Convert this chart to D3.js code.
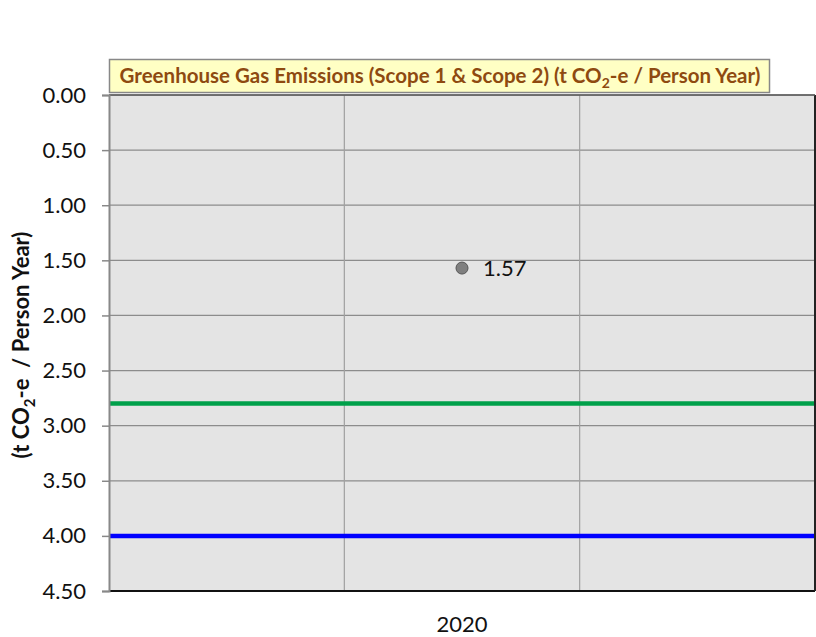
<!DOCTYPE html>
<html lang="en">
<head>
    <meta charset="UTF-8">
    <title>Greenhouse Gas Emissions</title>
    <script src="https://cdn.jsdelivr.net/npm/d3@7"></script>
    <style>
        body { margin: 0; background: #fff; }
        svg { display: block; }
        text { font-family: Lato, "Open Sans", sans-serif; }
    </style>
</head>
<body>
<div id="container"></div>
<script>
    // data
    const xSlots = ["2019", "2020", "2021"];
    const xLabels = ["", "2020", ""];
    const pointYear = ["2020"];
    const pointValue = [1.57];
    const refLines = [2.80, 4.00];
    const refColors = ["#00a04a", "#0000ff"];
    const yTicks = [0, 0.5, 1, 1.5, 2, 2.5, 3, 3.5, 4, 4.5];

    const width = 816, height = 637;
    const m = {top: 95, right: 1, bottom: 46, left: 109};
    const iw = width - m.left - m.right, ih = height - m.top - m.bottom;

    let svg = d3.select("#container").append("svg")
        .attr("width", width).attr("height", height);

    let x = d3.scaleBand().domain(xSlots).range([0, iw]);
    let y = d3.scaleLinear().domain([0, 4.5]).range([0, ih]);

    let g = svg.append("g").attr("transform", `translate(${m.left},${m.top})`);

    g.append("rect").attr("width", iw).attr("height", ih).attr("fill", "#e4e4e4");

    // horizontal grid
    g.selectAll(".hg").data(yTicks).join("line")
        .attr("x1", 0).attr("x2", iw)
        .attr("y1", d => y(d)).attr("y2", d => y(d))
        .attr("stroke", "#8c8c8c").attr("stroke-width", 1.2);

    // vertical grid at slot boundaries
    g.selectAll(".vg").data(xSlots.slice(1)).join("line")
        .attr("x1", d => x(d)).attr("x2", d => x(d))
        .attr("y1", 0).attr("y2", ih)
        .attr("stroke", "#a0a0a0").attr("stroke-width", 1.2);

    // reference lines
    g.selectAll(".ref").data(refLines).join("line")
        .attr("x1", 0).attr("x2", iw)
        .attr("y1", d => y(d)).attr("y2", d => y(d))
        .attr("stroke", (d, i) => refColors[i]).attr("stroke-width", 4.5);

    // borders
    g.append("line").attr("x1", 0).attr("x2", iw).attr("y1", ih).attr("y2", ih)
        .attr("stroke", "#111").attr("stroke-width", 2);
    g.append("line").attr("x1", iw).attr("x2", iw).attr("y1", 0).attr("y2", ih)
        .attr("stroke", "#222").attr("stroke-width", 2);
    g.append("line").attr("x1", 0).attr("x2", iw).attr("y1", 0).attr("y2", 0)
        .attr("stroke", "#555").attr("stroke-width", 1.5);

    // y axis
    let yAxis = g.append("g")
        .call(d3.axisLeft(y).tickValues(yTicks).tickFormat(d3.format(".2f")).tickSize(7).tickPadding(16));
    yAxis.select(".domain").attr("stroke", "#888").attr("stroke-width", 2);
    yAxis.selectAll(".tick line").attr("stroke", "#888").attr("stroke-width", 1.5);
    yAxis.selectAll(".tick text").attr("font-size", 22).attr("fill", "#111")
        .attr("font-family", "Lato, 'Open Sans', sans-serif");

    // x labels
    g.selectAll(".xl").data(xSlots).join("text")
        .attr("x", d => x(d) + x.bandwidth() / 2).attr("y", ih + 41)
        .attr("text-anchor", "middle").attr("font-size", 22).attr("fill", "#111")
        .text((d, i) => xLabels[i]);

    // point
    g.selectAll(".pt").data(pointValue).join("circle")
        .attr("cx", (d, i) => x(pointYear[i]) + x.bandwidth() / 2)
        .attr("cy", d => y(d)).attr("r", 6)
        .attr("fill", "#7f7f7f").attr("stroke", "#555").attr("stroke-width", 1);
    g.selectAll(".pl").data(pointValue).join("text")
        .attr("x", (d, i) => x(pointYear[i]) + x.bandwidth() / 2 + 21)
        .attr("y", d => y(d) + 8)
        .attr("font-size", 22).attr("fill", "#111")
        .text(d => d.toFixed(2));

    // y title
    let yt = svg.append("text")
        .attr("transform", `translate(29,${m.top + ih / 2 + 2}) rotate(-90)`)
        .attr("text-anchor", "middle").attr("font-size", 22).attr("font-weight", "bold").attr("fill", "#111")
        .attr("xml:space", "preserve").style("white-space", "pre");
    yt.append("tspan").text("(t CO");
    yt.append("tspan").attr("font-size", 15).attr("dy", 6).text("2");
    yt.append("tspan").attr("dy", -6).text("-e  / Person Year)");

    // title box
    svg.append("rect").attr("x", 109.5).attr("y", 59.5).attr("width", 660).attr("height", 33)
        .attr("fill", "#ffffc4").attr("stroke", "#888").attr("stroke-width", 1.5);
    let tt = svg.append("text").attr("x", 440).attr("y", 83)
        .attr("text-anchor", "middle").attr("font-size", 20.5).attr("font-weight", "bold").attr("fill", "#8e4a10");
    tt.append("tspan").text("Greenhouse Gas Emissions (Scope 1 & Scope 2) (t CO");
    tt.append("tspan").attr("font-size", 14).attr("dy", 5).text("2");
    tt.append("tspan").attr("dy", -5).text("-e / Person Year)");
</script>
</body>
</html>
